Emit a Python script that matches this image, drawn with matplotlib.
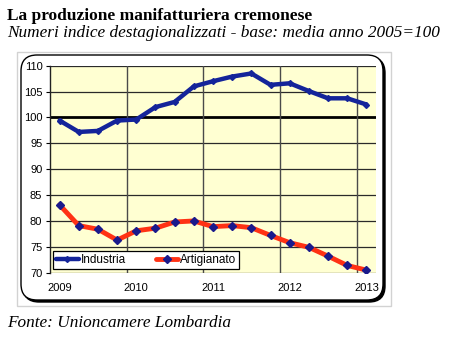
import matplotlib
matplotlib.use("Agg")
import matplotlib.pyplot as plt
from matplotlib.patches import FancyBboxPatch, Rectangle

# quarterly index values, 2009 Q1 .. 2013 Q1 (base: 2005 average = 100)
quarters = list(range(17))
industria = [99.4, 97.2, 97.4, 99.4, 99.6, 102.0, 103.0, 106.0, 107.0,
             107.9, 108.5, 106.3, 106.6, 105.1, 103.7, 103.7, 102.5]
artigianato = [83.1, 79.1, 78.4, 76.3, 78.1, 78.6, 79.8, 80.0, 78.9,
               79.1, 78.7, 77.2, 75.8, 74.9, 73.2, 71.4, 70.5]
year_ticks = [0, 4, 8, 12, 16]
year_labels = ["2009", "2010", "2011", "2012", "2013"]
y_ticks = [70, 75, 80, 85, 90, 95, 100, 105, 110]

W, H = 450, 338
BLUE = "#14249a"
RED = "#ff3214"
PLOT_BG = "#ffffd2"
SANS = "Liberation Sans"
SERIF = "Liberation Serif"

fig = plt.figure(figsize=(W / 100, H / 100), dpi=100, facecolor="white")
inch = fig.dpi_scale_trans


def px(x, y):
    # image pixels (top-left origin) -> inches (bottom-left origin)
    return x / 100, (H - y) / 100


# outer light-grey box and rounded frame with shadow
x0, y0 = px(16.5, 306)
fig.patches.append(Rectangle((x0, y0), 374 / 100, 254 / 100, transform=inch,
                             facecolor="white", edgecolor="#d2d2d2", lw=1.0, zorder=-3))
fx, fy = px(21, 300)
fw, fh = 362 / 100, 245 / 100
fig.patches.append(FancyBboxPatch((fx + 0.02, fy - 0.02), fw, fh, transform=inch,
                                  boxstyle="round,pad=0,rounding_size=0.16",
                                  facecolor="black", edgecolor="black", lw=1.0, zorder=-2))
fig.patches.append(FancyBboxPatch((fx, fy), fw, fh, transform=inch,
                                  boxstyle="round,pad=0,rounding_size=0.16",
                                  facecolor="white", edgecolor="black", lw=1.0, zorder=-1))

ax = fig.add_axes([50 / W, 1 - 272.7 / H, 326 / W, 207 / H])
ax.set_facecolor(PLOT_BG)
ax.set_xlim(-0.5, 16.5)
ax.set_ylim(70, 110)

ax.set_yticks(y_ticks)
ax.set_yticklabels([str(v) for v in y_ticks], fontsize=8, family=SANS)
ax.set_xticks(year_ticks)
ax.set_xticklabels(year_labels, fontsize=8, family=SANS)
ax.set_xticks([3.5, 7.5, 11.5, 15.5], minor=True)
ax.tick_params(axis="y", length=3, width=0.8, pad=2.5)
ax.tick_params(axis="x", which="both", length=0, pad=7.5)

for v in y_ticks:
    if v != 100:
        ax.axhline(v, color="#2a2a2a", lw=0.9, zorder=1)
ax.axhline(100, color="black", lw=2.0, zorder=1)
for b in [3.5, 7.5, 11.5, 15.5]:
    ax.axvline(b, color="#4a4a4a", lw=1.0, zorder=1)
for s in ["top", "right", "bottom"]:
    ax.spines[s].set_visible(False)
ax.spines["left"].set_color("#222")
ax.spines["left"].set_linewidth(1.0)

ax.plot(quarters, industria, color=BLUE, lw=3.2, marker="D", ms=3.0,
        mfc=BLUE, mec=BLUE, solid_joinstyle="round", solid_capstyle="round",
        label="Industria", zorder=3)
ax.plot(quarters, artigianato, color=RED, lw=3.5, marker="D", ms=4.0,
        mfc="#1a1a8c", mec="#1a1a8c", solid_joinstyle="round", solid_capstyle="round",
        label="Artigianato", zorder=3)

leg = ax.legend(loc="lower left", bbox_to_anchor=(0.01, 0.016, 0.571, 0.092),
                mode="expand", ncol=2, prop={"family": SANS, "size": 8.5},
                frameon=True, fancybox=False, borderpad=0.25, handlelength=1.9,
                handletextpad=0.15, columnspacing=1.0, borderaxespad=0)
leg.get_frame().set_edgecolor("black")
leg.get_frame().set_linewidth(0.9)
leg.get_frame().set_facecolor("white")
leg.get_frame().set_alpha(1)

fig.text(7 / W, 1 - 19.5 / H, "La produzione manifatturiera cremonese",
         family=SERIF, fontweight="bold", fontsize=12.5, ha="left", va="baseline")
fig.text(7 / W, 1 - 37 / H, "Numeri indice destagionalizzati - base: media anno 2005=100",
         family=SERIF, style="italic", fontsize=12.4, ha="left", va="baseline")
fig.text(7 / W, 1 - 327 / H, "Fonte: Unioncamere Lombardia",
         family=SERIF, style="italic", fontsize=12.4, ha="left", va="baseline")

fig.savefig("out.png", dpi=100, facecolor="white")
